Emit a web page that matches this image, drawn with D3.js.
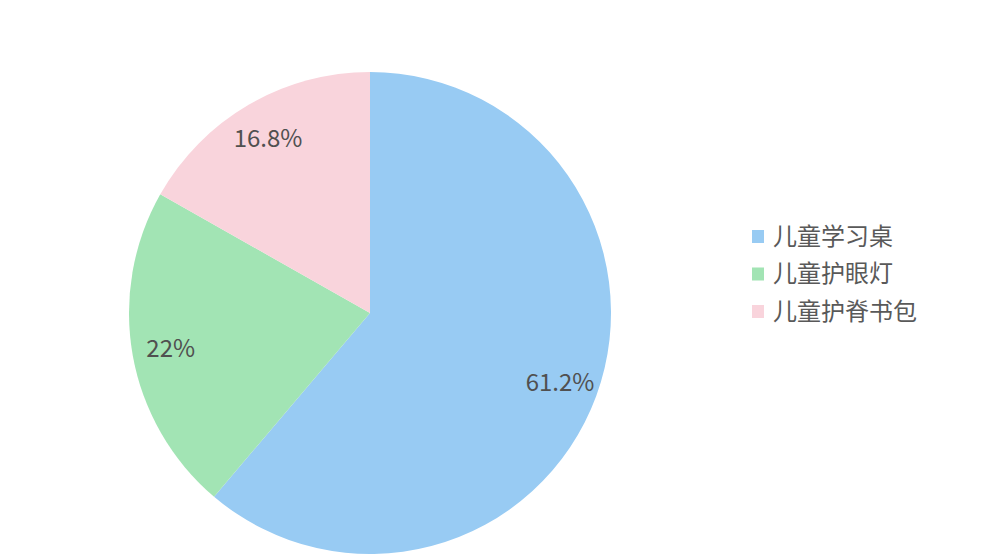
<!DOCTYPE html>
<html><head><meta charset="utf-8">
<script src="https://cdn.jsdelivr.net/npm/d3@7"></script>
<style>body{margin:0;background:#fff;} svg{display:block;}</style>
</head><body>
<svg id="chart" width="1000" height="559"></svg>
<script>
const categories = ["儿童学习桌", "儿童护眼灯", "儿童护脊书包"];
const values = [61.2, 22, 16.8];
const colors = ["#98CBF3", "#A2E4B4", "#F9D4DC"];

const svg = d3.select("#chart");
const cx = 370, cy = 313, r = 241;
const font = "'Noto Sans CJK SC','Noto Sans',sans-serif";

const pie = d3.pie().sort(null).value(d => d.v);
const data = pie(categories.map((c, i) => ({c, v: values[i], col: colors[i]})));
const arc = d3.arc().innerRadius(0).outerRadius(r);
const labelArc = d3.arc().innerRadius(r * 0.68).outerRadius(r);

const g = svg.append("g").attr("transform", `translate(${cx},${cy})`);
g.selectAll("path").data(data).join("path")
  .attr("d", arc).attr("fill", d => d.data.col);
g.selectAll("text").data(data).join("text")
  .attr("transform", d => `translate(${labelArc.centroid(d)})`)
  .attr("text-anchor", "middle").attr("dy", "0.35em")
  .attr("font-family", font).attr("font-size", 24).attr("fill", "#505050")
  .text(d => d.data.v + "%");

const lg = svg.append("g").attr("transform", "translate(752,236)");
const items = lg.selectAll("g").data(categories).join("g")
  .attr("transform", (d, i) => `translate(0,${i * 37.5})`);
items.append("rect").attr("x", 0).attr("y", -6).attr("width", 12).attr("height", 13)
  .attr("fill", (d, i) => colors[i]);
items.append("text").attr("x", 21).attr("dy", "0.36em")
  .attr("font-family", font).attr("font-size", 24).attr("fill", "#595959")
  .text(d => d);
</script>
</body></html>
